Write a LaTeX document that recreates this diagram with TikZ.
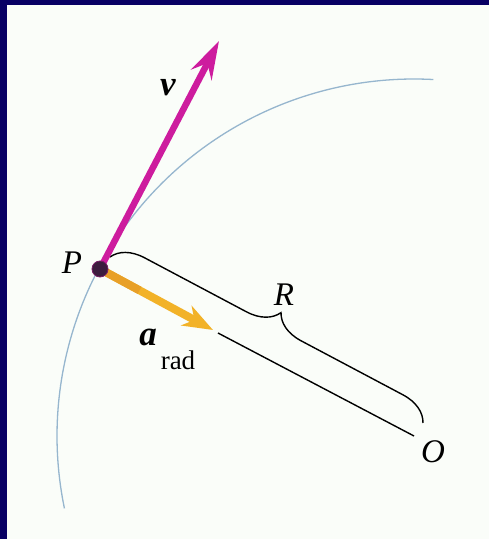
\documentclass[tikz,border=0pt]{standalone}
\usepackage{fontspec}
\setmainfont{Liberation Serif}
\usetikzlibrary{arrows.meta,decorations.pathreplacing,calc}
\definecolor{bgc}{RGB}{250,253,249}
\definecolor{navy}{RGB}{8,0,100}
\definecolor{magv}{RGB}{205,28,158}
\definecolor{yelw}{RGB}{242,178,40}
\definecolor{yelwd}{RGB}{232,160,40}
\definecolor{arcc}{RGB}{150,182,206}
\definecolor{dotc}{RGB}{60,28,62}
\tikzset{
  lbl/.style={inner sep=0pt, font=\fontsize{33}{33}\selectfont\itshape},
  vlbl/.style={inner sep=0pt, font=\fontsize{35}{35}\selectfont\bfseries\itshape},
  sublbl/.style={inner sep=0pt, font=\fontsize{27}{27}\selectfont},
  vec/.style={line width=6.5pt, draw=magv, -{Stealth[length=38pt,width=23pt,inset=13pt]}},
  acc/.style={line width=8pt, draw=yelw, -{Stealth[length=30pt,width=22pt,inset=9pt]}},
  radline/.style={line width=1.4pt, draw=black},
  bracestyle/.style={line width=1.4pt, draw=black, decorate, decoration={brace, amplitude=31pt}},
  pathc/.style={line width=1.3pt, draw=arcc}
}
\begin{document}
\begin{tikzpicture}[x=1pt,y=1pt]
\useasboundingbox (0,0) rectangle (489,539);
\fill[bgc] (0,0) rectangle (489,539);
\fill[navy] (0,0) rectangle (7,539);
\fill[navy] (0,534) rectangle (489,539);
% circular path about O
\coordinate (O) at (414,103);
\draw[pathc] (O) ++(191.7:357) arc[start angle=191.7, end angle=86.9, radius=357];
% points
\coordinate (P) at (100,270);
\coordinate (vtip) at (219,498);
\coordinate (atip) at (213,209);
\coordinate (rs) at (218,206);
\coordinate (b1) at (110,282);
\coordinate (b2) at (423,116);
% radius line and brace
\draw[radline] (rs) -- (O);
\draw[bracestyle] (b1) -- (b2);
% vectors
\draw[acc] (P) -- (atip);
\draw[line width=8pt, draw=yelwd] (P) -- ($(P)!0.35!(atip)$);
\draw[vec] (P) -- (vtip);
\node[circle, fill=dotc, draw=magv!40!dotc, line width=0.8pt, minimum size=16pt, inner sep=0pt] (dot) at (P) {};
% labels
\node[lbl] (lP) at (72,276) {P};
\node[vlbl] (lv) at (168,451) {v};
\node[vlbl] (la) at (148,202) {a};
\node[sublbl] (lrad) at (178,179) {rad};
\node[lbl] (lR) at (284,244) {R};
\node[lbl] (lO) at (433,87) {O};
\end{tikzpicture}
\end{document}
